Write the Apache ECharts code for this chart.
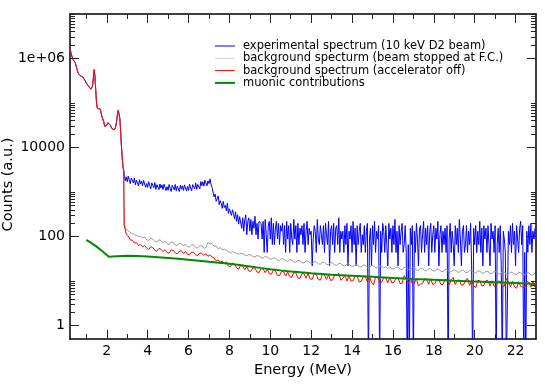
<!DOCTYPE html>
<html><head><meta charset="utf-8">
<script src="https://cdn.jsdelivr.net/npm/echarts@6/dist/echarts.min.js"></script>
<style>html,body{margin:0;padding:0;background:#fff}#c{width:545px;height:385px}</style>
</head><body><div id="c"></div>
<script>
// ---- data ----
const seriesNames = [
  'experimental spectrum (10 keV D2 beam)',
  'background specturm (beam stopped at F.C.)',
  'background spectrum (accelerator off)',
  'muonic contributions'
];
// low-energy part shared by the three measured spectra (MeV, counts)
const commonEnergy = [0.2,0.25,0.3,0.35,0.4,0.45,0.5,0.55,0.6,0.65,0.7,0.76,0.82,0.88,0.94,1.0,1.06,1.12,1.17,1.22,1.26,1.3,1.34,1.38,1.42,1.46,1.5,1.54,1.58,1.63,1.68,1.72,1.76,1.8,1.85,1.9,1.95,2.0,2.06,2.1,2.14,2.19,2.24,2.3,2.36,2.42,2.47,2.52,2.56,2.6,2.64,2.68,2.72,2.76,2.8,2.83];
const commonCounts = [1.6e6,1.35e6,1.1e6,9.4e5,8.8e5,8.2e5,7.6e5,5.6e5,4.7e5,4.4e5,4.1e5,3.95e5,3.85e5,3.65e5,3.2e5,2.8e5,2.6e5,2.35e5,2.2e5,2.05e5,2.0e5,2.4e5,3.5e5,5.6e5,4.0e5,1.9e5,1.0e5,7.6e4,7.2e4,7.8e4,7.3e4,6.0e4,5.0e4,4.6e4,3.8e4,3.0e4,2.9e4,3.2e4,3.6e4,3.8e4,3.7e4,3.1e4,2.7e4,2.45e4,2.5e4,2.8e4,3.6e4,5.5e4,6.9e4,6.5e4,4.5e4,2.2e4,1.0e4,5.5e3,3.5e3,3.0e3];
// experimental spectrum above 2.85 MeV, one value every 0.05 MeV (0.1 = empty channel)
const blueStart = 2.85, blueStep = 0.05;
const blueCounts = [
2900,1800,2200,1700,2270,1860,1540,2080,1850,1600,
2070,1450,1860,1750,1370,1890,1510,1780,1390,1820,
1830,1280,1560,1270,1710,1410,1180,1610,1430,1250,
1630,1150,1470,1390,1130,1520,1230,1450,1140,1500,
1520,1080,1320,1100,1480,1220,1030,1420,1280,1120,
1480,1050,1360,1290,1030,1430,1160,1380,1090,1450,
1470,1050,1330,1090,1500,1240,1060,1470,1340,1190,
1590,1150,1480,1460,1180,1720,1390,1700,1360,1850,
1910,1380,1780,1550,1980,1500,1250,
1150,780,900,620,700,820,520,640,560,430,
620,450,500,380,560,330,420,460,300,400,
330,250,360,220,310,190,280,
286,154,264,132,242,308,110,220,264,132,242,110,220,154,286,110,198,88,220,242,
198,88,220,44,242,110,44,176,220,88,264,66,198,66,154,220,88,198,66,176,
132,198,66,176,44,220,88,176,44,198,88,66,242,88,176,44,198,66,154,110,
176,66,198,44,132,220,66,154,110,132,22,88,176,132,44,242,88,66,176,110,
66,176,44,198,110,66,220,22,132,176,66,198,44,154,176,66,264,44,132,88,
132,44,176,66,198,22,132,88,176,44,220,66,154,22,176,66,132,198,44,110,
66,176,44,132,198,0.1,88,154,22,176,66,220,44,132,88,176,0.1,132,44,198,
132,44,176,66,22,198,88,154,44,176,66,242,44,132,22,176,66,132,198,44,
66,176,44,0.1,66,0.1,154,66,176,0.1,132,44,198,88,22,154,176,44,110,220,
44,154,66,176,22,132,198,44,110,176,44,154,88,220,22,110,176,44,132,66,
154,44,176,0.1,88,198,44,132,66,22,176,66,154,44,242,88,22,132,176,44,
66,176,44,132,66,198,22,0.1,154,66,176,44,132,66,220,44,154,22,176,88,
154,44,176,66,22,198,88,132,44,176,0.1,66,154,44,176,22,0.1,132,88,44,
0.1,0.1,132,66,176,44,198,66,132,22,176,88,44,154,220,66,176,0.1,44,0.1,
132,44,176,66,198,44,132,88,154
];
// background spectra above 2.85 MeV, one value every 0.1 MeV
const bgStart = 2.85, bgStep = 0.1;
const grayCounts = [
175,145,136,122,118,110,107,100,101,94,
97,85,82,93,88,78,75,85,82,72,
78,69,66,76,74,64,63,71,70,61,
68,59,58,66,65,56.5,55,63,62,54,
57,74,68,70,60,62,53,57,50,52,
49,46,43,46,44,41.5,40,42,41,38.5,
37,40,38.5,35.5,34.5,37.5,36.5,33.5,33,35.5,
35,32,31,33.5,32.5,30,29,32,31,28.5,
27.8,30.5,29.5,27,26.5,29.2,28.5,26,25.5,28.2,
28,25.3,24.8,27.5,27,24.5,24,26.5,26.2,23.6,
23.4,25.8,25.4,23,22.6,25,24.7,22.2,22,24.3,
24,21.7,21.4,23.6,23.3,21,20.7,23,22.7,20.4,
20.2,22.4,22.1,20,19.7,21.9,21.6,19.4,21.3,19.2,
21,19,18.8,20.8,20.5,18.5,18.3,20.3,20.1,18.1,
17.9,19.9,19.6,17.7,17.5,19.4,19.2,17.3,17.1,19,
18.8,16.9,16.8,18.6,18.4,16.6,16.4,18.2,18,16.3,
16.1,17.9,17.7,16,15.8,17.5,17.4,15.7,15.5,17.2,
17.1,15.4,15.3,16.9,16.8,15.1,15,16.6,16.5,14.9,
14.8,16.4,16.3,14.7,14.5,16.1,16,14.4,14.3,15.9,
15.8,14.2,14.1,15.7,15.5,14,13.9,15.4,15.3,13.8,
13.7,15.2
];
const redCounts = [
190,112,104,84,83,72,73,63,67,59,
63,55,51,59,57,49,47,54,52,46,
51,44,42,50,49,43,41,47,48,42,
46,40,39,45,44,38.5,37.5,43,42,38,
41,36,39,35,33,28.5,30,26.5,28,24.5,
27,22,21,25.5,24,19.8,18.5,22.5,21.5,18,
21,17,16.5,20,19.5,16,15.5,19,18.5,15.5,
18.5,14.8,14.2,17.5,17,13.5,13.2,16.5,16.2,13,
16,12.6,12.2,15.5,15.2,11.8,11.5,14.8,14.6,11.6,
14.8,11.2,11,14.4,14,10.8,10.5,14.2,13.6,10.9,
14,10.3,10.6,13.7,13.2,15,10.4,11.5,13.3,10.1,
13.1,10,10.2,12.8,12.9,9.6,9.9,12.6,12.4,9.7,
12.6,9.4,8.2,12.3,12.2,9.3,9.5,12,11.8,9.1,
12,9.1,9.3,11.6,11.8,8.8,9,13.2,11.4,8.8,
11.6,8.7,9,11.4,7.8,8.6,8.8,11.3,11,8.5,
11.2,8.4,8.7,11,10.8,8.3,8.5,10.9,10.7,8.2,
10.8,12,8.4,10.5,10.5,8.1,8.2,10.6,11.5,8,
10.5,7.9,7.1,10.3,10.2,7.8,8,10.3,10.1,7.7,
10.2,7.6,7.9,10,9.9,7.5,7.7,11.4,9.8,7.5,
9.9,7.4,6.9,9.7,7.6,7.3,7.5,9.7,9.5,7.3,
9.6,7.3
];
const greenEnergy = [1.0,1.25,1.5,1.8,2.1,2.5,3.0,3.5,4.0,4.5,5.0,5.5,6.0,6.5,7.0,7.5,8.0,8.5,9.0,9.5,10.0,10.5,11.0,11.5,12.0,13.0,14.0,15.0,16.0,17.0,18.0,19.0,20.0,21.0,22.0,23.0];
const greenCounts = [84.6,71,59.5,46,35.3,36.2,36.9,36.8,35.6,34.4,33.2,31.9,30.3,28.8,27.3,25.9,24.5,22.9,21.3,19.8,18.5,17.4,16.5,15.7,15.0,13.9,13.2,12.5,11.8,11.2,10.7,10.2,9.8,9.4,9.0,8.6];
// axes
const xMajorTicks = [2,4,6,8,10,12,14,16,18,20,22];
const xMinorTicks = [1,3,5,7,9,11,13,15,17,19,21];
const yLabelValues = [1,100,10000,1000000];
const yLabelTexts = ['1','100','10000','1e+06'];
const yMinorTicks = [2,3,4,5,6,7,8,9,10,200,300,400,500,600,700,800,900,1000,20000,30000,40000,50000,60000,70000,80000,90000,100000,2000000,3000000,4000000,5000000,6000000,7000000,8000000,9000000,10000000];

// ---- build ----
function pairs(E, C){ return E.map((e,i)=>[e, C[i]]); }
function gridPairs(start, step, C){ return C.map((v,i)=>[+(start+i*step).toFixed(3), v]); }
const common = pairs(commonEnergy, commonCounts);
const FONT = 'DejaVu Sans';
const AX = '#000';
const colors = ['#0000ff', '#9a9a9a', '#ff0000', '#008c00'];
function yLabel(v){
  for (let i=0;i<yLabelValues.length;i++){
    if (Math.abs(Math.log10(v)-Math.log10(yLabelValues[i]))<1e-6) return yLabelTexts[i];
  }
  return '';
}
const xBase = {type:'value', min:0.2, max:23, splitLine:{show:false}, axisLine:{show:false, onZero:false}, axisLabel:{show:false}, axisTick:{show:false}};
const yBase = {type:'log', logBase:10, min:0.5, max:1e7, splitLine:{show:false}, axisLine:{show:false, onZero:false}, axisLabel:{show:false}, axisTick:{show:false}};
const lineAx = {show:true, onZero:false, lineStyle:{color:AX, width:1.5}};
const majT = (vals)=>({show:true, inside:true, length:9, customValues:vals, lineStyle:{color:'#222', width:1}});
const minT = (vals)=>({show:true, inside:true, length:5, customValues:vals, lineStyle:{color:'#222', width:1}});
const thinIcon = 'path://M0 0H20V1H0Z';
const thickIcon = 'path://M0 0H20V2H0Z';

const option = {
  animation:false,
  backgroundColor:'#fff',
  textStyle:{fontFamily:FONT},
  grid:{left:70, top:14, width:466, height:325, containLabel:false, outerBoundsMode:'none'},
  legend:{
    orient:'vertical', left:215, top:40, padding:0, itemGap:0.3,
    itemWidth:20, itemHeight:10, selectedMode:false, symbolKeepAspect:true,
    textStyle:{fontFamily:FONT, fontSize:11.5, lineHeight:10, color:'#000', padding:[0,0,0,3]},
    data:[
      {name:seriesNames[0], icon:thinIcon, itemStyle:{color:colors[0]}},
      {name:seriesNames[1], icon:thinIcon, itemStyle:{color:'#d4d4d4'}},
      {name:seriesNames[2], icon:thinIcon, itemStyle:{color:colors[2]}},
      {name:seriesNames[3], icon:thickIcon, itemStyle:{color:colors[3]}}
    ]
  },
  xAxis:[
    Object.assign({}, xBase, {position:'bottom', axisLine:lineAx, axisTick:majT(xMajorTicks),
      axisLabel:{show:true, customValues:xMajorTicks, fontSize:14, color:'#000', fontFamily:FONT, margin:5},
      name:'Energy (MeV)', nameLocation:'middle', nameGap:24, nameMoveOverlap:false,
      nameTextStyle:{fontSize:14.5, color:'#000', fontFamily:FONT}}),
    Object.assign({}, xBase, {position:'bottom', axisTick:minT(xMinorTicks)}),
    Object.assign({}, xBase, {position:'top', axisLine:lineAx, axisTick:majT(xMajorTicks)}),
    Object.assign({}, xBase, {position:'top', axisTick:minT(xMinorTicks)})
  ],
  yAxis:[
    Object.assign({}, yBase, {position:'left', axisLine:lineAx, axisTick:majT(yLabelValues),
      axisLabel:{show:true, customValues:yLabelValues, formatter:yLabel, fontSize:14, color:'#000', fontFamily:FONT, margin:5},
      name:'Counts (a.u.)', nameLocation:'middle', nameGap:54, nameMoveOverlap:false,
      nameTextStyle:{fontSize:14.5, color:'#000', fontFamily:FONT, padding:[0,16,0,0]}}),
    Object.assign({}, yBase, {position:'left', axisTick:minT(yMinorTicks)}),
    Object.assign({}, yBase, {position:'right', axisLine:lineAx, axisTick:majT(yLabelValues)}),
    Object.assign({}, yBase, {position:'right', axisTick:minT(yMinorTicks)})
  ],
  series:[
    {name:seriesNames[0], type:'line', symbol:'none', z:2, clip:true,
     data: common.concat(gridPairs(blueStart, blueStep, blueCounts)),
     lineStyle:{color:colors[0], width:1}, itemStyle:{color:colors[0]}},
    {name:seriesNames[1], type:'line', symbol:'none', z:3, clip:true,
     data: common.concat(gridPairs(bgStart, bgStep, grayCounts)),
     lineStyle:{color:colors[1], width:1}, itemStyle:{color:colors[1]}},
    {name:seriesNames[2], type:'line', symbol:'none', z:4, clip:true,
     data: common.concat(gridPairs(bgStart, bgStep, redCounts)),
     lineStyle:{color:colors[2], width:1}, itemStyle:{color:colors[2]}},
    {name:seriesNames[3], type:'line', symbol:'none', z:5, clip:true,
     data: pairs(greenEnergy, greenCounts),
     lineStyle:{color:colors[3], width:2}, itemStyle:{color:colors[3]}}
  ]
};
const chart = echarts.init(document.getElementById('c'), null, {renderer:'canvas'});
chart.setOption(option);
</script></body></html>
